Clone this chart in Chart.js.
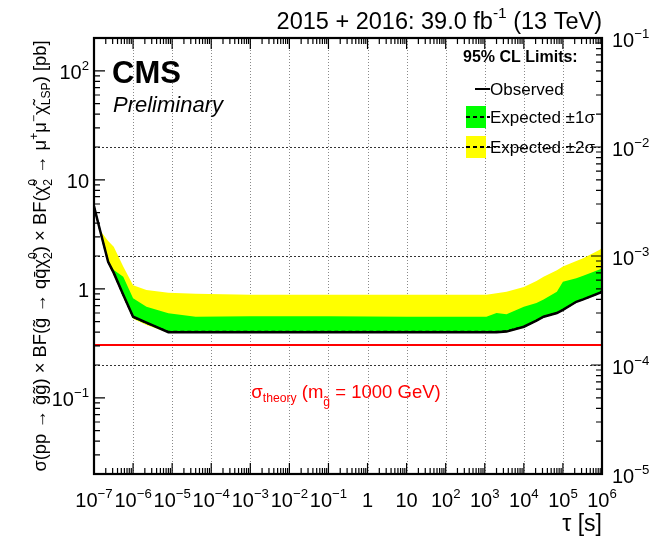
<!DOCTYPE html>
<html>
<head>
<meta charset="utf-8">
<script src="https://cdn.jsdelivr.net/npm/chart.js@4.4.1/dist/chart.umd.min.js"></script>
<style>
  html, body { margin: 0; padding: 0; background: #fff; }
</style>
</head>
<body>
<canvas id="limitPlot" width="657" height="541"></canvas>
<script>
// lifetime points (s) shared by every curve
const tau = [1e-7, 1.4e-7, 2.3e-7, 3.2e-7, 5.6e-7, 1e-6, 2.2e-6, 8e-6, 4e-5, 1e-3, 0.1, 10,
             1.1e3, 2e3, 3.6e3, 1e4, 2.1e4, 3.2e4, 7e4, 1e5, 2.2e5, 3.3e5, 9e5, 1e6];

// 95% CL upper limits on the cross section (pb)
const observed = [5.7, 3.54, 1.77, 1.40, 0.88, 0.555, 0.49, 0.40, 0.40, 0.40, 0.40, 0.40,
                  0.40, 0.40, 0.405, 0.449, 0.51, 0.555, 0.60, 0.64, 0.76, 0.80, 0.92, 0.95];
const expected = [5.7, 3.52, 1.76, 1.39, 0.875, 0.55, 0.485, 0.405, 0.405, 0.405, 0.405, 0.405,
                  0.405, 0.405, 0.41, 0.45, 0.51, 0.555, 0.60, 0.64, 0.76, 0.80, 0.92, 0.95];
const oneSigmaUp = [5.7, 3.54, 1.80, 1.49, 1.29, 0.82, 0.686, 0.596, 0.555, 0.56, 0.56, 0.555,
                    0.555, 0.60, 0.585, 0.686, 0.74, 0.80, 0.94, 1.16, 1.25, 1.32, 1.51, 1.55];
const oneSigmaDown = [5.7, 3.5, 1.74, 1.37, 0.86, 0.54, 0.475, 0.40, 0.40, 0.40, 0.40, 0.40,
                      0.40, 0.40, 0.405, 0.445, 0.505, 0.55, 0.595, 0.635, 0.755, 0.795, 0.915, 0.945];
const twoSigmaUp = [5.7, 3.47, 2.75, 2.43, 1.60, 1.08, 0.975, 0.92, 0.90, 0.88, 0.88, 0.88,
                    0.88, 0.91, 0.94, 1.04, 1.18, 1.29, 1.48, 1.60, 1.80, 1.91, 2.30, 2.40];
const twoSigmaDown = [5.7, 3.45, 1.70, 1.34, 0.84, 0.53, 0.465, 0.395, 0.395, 0.395, 0.395, 0.395,
                      0.395, 0.395, 0.40, 0.44, 0.50, 0.545, 0.59, 0.63, 0.75, 0.79, 0.91, 0.94];

// gluino pair production cross section, m = 1000 GeV
const theoryTau = [1e-7, 1e6];
const theoryXsec = [0.305, 0.305];

// axis tick decades
const xDecades = [-7, -6, -5, -4, -3, -2, -1, 0, 1, 2, 3, 4, 5, 6];
const yDecades = [-1, 0, 1, 2];
const y2Decades = [-5, -4, -3, -2, -1];

const FONT = '"Liberation Sans", Arial, Helvetica, sans-serif';

const pts = (xs, ys) => xs.map((x, i) => ({ x: x, y: ys[i] }));

function line(label, data, color, extra) {
  return Object.assign({
    label: label,
    data: data,
    borderColor: color,
    backgroundColor: color,
    borderWidth: 0,
    pointRadius: 0,
    tension: 0,
    fill: false
  }, extra || {});
}

// --- rich text (super/subscripts) ---
function partFont(size, p, style) {
  const s = (p.k && p.k !== 'n') ? size * 0.66 : size;
  return (style || '') + ' ' + s.toFixed(1) + 'px ' + FONT;
}
function richWidth(ctx, parts, size, style) {
  let w = 0;
  for (const p of parts) {
    ctx.font = partFont(size, p, style);
    let pw = ctx.measureText(p.t).width;
    if (p.k === 'both') pw = Math.max(pw, ctx.measureText(p.sup).width);
    w += pw;
  }
  return w;
}
function drawRich(ctx, parts, x, y, size, style, align) {
  const w = richWidth(ctx, parts, size, style);
  let cx = x;
  if (align === 'center') cx = x - w / 2;
  if (align === 'right') cx = x - w;
  ctx.textAlign = 'left';
  ctx.textBaseline = 'alphabetic';
  for (const p of parts) {
    ctx.font = partFont(size, p, style);
    let pw = ctx.measureText(p.t).width;
    const low = p.low || 0.22;
    if (p.k === 'sup') ctx.fillText(p.t, cx, y - size * 0.45);
    else if (p.k === 'sub') ctx.fillText(p.t, cx, y + size * low);
    else if (p.k === 'both') {
      ctx.fillText(p.t, cx, y + size * 0.3);
      ctx.fillText(p.sup, cx, y - size * 0.5);
      pw = Math.max(pw, ctx.measureText(p.sup).width);
    } else ctx.fillText(p.t, cx, y);
    cx += pw;
  }
  return w;
}
function expLabel(d) {
  if (d === 0) return [{ t: '1' }];
  if (d === 1) return [{ t: '10' }];
  return [{ t: '10' }, { t: (d < 0 ? '\u2212' : '') + Math.abs(d), k: 'sup' }];
}

const rootStyle = {
  id: 'rootStyle',
  beforeDatasetsDraw(chart) {
    const ctx = chart.ctx, a = chart.chartArea;
    const xs = chart.scales.x, y2 = chart.scales.y2;
    ctx.save();
    ctx.lineWidth = 1;
    // vertical dotted grid at each decade
    ctx.strokeStyle = '#8a8a8a';
    ctx.setLineDash([1, 2]);
    xDecades.slice(1, -1).forEach(d => {
      const px = Math.round(xs.getPixelForValue(Math.pow(10, d))) + 0.5;
      ctx.beginPath(); ctx.moveTo(px, a.top); ctx.lineTo(px, a.bottom); ctx.stroke();
    });
    // horizontal dashed grid at the right-axis decades
    ctx.strokeStyle = '#333';
    ctx.setLineDash([2, 2]);
    y2Decades.slice(1, -1).forEach(d => {
      const py = Math.round(y2.getPixelForValue(Math.pow(10, d))) + 0.5;
      ctx.beginPath(); ctx.moveTo(a.left, py); ctx.lineTo(a.right, py); ctx.stroke();
    });
    ctx.restore();
  },
  afterDatasetsDraw(chart) {
    const ctx = chart.ctx, a = chart.chartArea;
    const xs = chart.scales.x, ys = chart.scales.y, y2 = chart.scales.y2;
    ctx.save();
    ctx.setLineDash([]);
    ctx.strokeStyle = '#000';
    ctx.fillStyle = '#000';

    // ticks pointing into the frame
    ctx.lineWidth = 1.2;
    ctx.beginPath();
    for (let d = -7; d < 6; d++) {
      for (let k = 1; k < 10; k++) {
        const px = xs.getPixelForValue(k * Math.pow(10, d));
        const len = k === 1 ? 11 : 6;
        ctx.moveTo(px, a.bottom); ctx.lineTo(px, a.bottom - len);
        ctx.moveTo(px, a.top); ctx.lineTo(px, a.top + len);
      }
    }
    for (let d = -2; d < 3; d++) {
      for (let k = 1; k < 10; k++) {
        const v = k * Math.pow(10, d);
        if (v < 0.02 || v > 200) continue;
        const py = ys.getPixelForValue(v);
        const len = k === 1 ? 11 : 6;
        ctx.moveTo(a.left, py); ctx.lineTo(a.left + len, py);
      }
    }
    for (let d = -5; d < -1; d++) {
      for (let k = 1; k < 10; k++) {
        const py = y2.getPixelForValue(k * Math.pow(10, d));
        const len = k === 1 ? 11 : 6;
        ctx.moveTo(a.right, py); ctx.lineTo(a.right - len, py);
      }
    }
    ctx.stroke();

    // frame
    ctx.lineWidth = 2.2;
    ctx.strokeRect(a.left, a.top, a.right - a.left, a.bottom - a.top);

    // tick labels
    const ls = 20;
    xDecades.forEach(d => {
      drawRich(ctx, expLabel(d), xs.getPixelForValue(Math.pow(10, d)), a.bottom + 33, ls, '', 'center');
    });
    yDecades.forEach(d => {
      drawRich(ctx, expLabel(d), a.left - 5, ys.getPixelForValue(Math.pow(10, d)) + 8, ls, '', 'right');
    });
    y2Decades.forEach(d => {
      drawRich(ctx, expLabel(d), a.right + 10, y2.getPixelForValue(Math.pow(10, d)) + 9, ls, '', 'left');
    });

    // axis titles
    ctx.font = '23px ' + FONT;
    ctx.textAlign = 'right';
    ctx.fillText('\u03c4 [s]', a.right, 531);

    const yTitle = [
      { t: '\u03c3(pp \u2192 g\u0303g\u0303) \u00d7 BF(g\u0303 \u2192 qq\u0304\u03c7\u0303' },
      { t: '2', k: 'both', sup: '0' },
      { t: ') \u00d7 BF(\u03c7\u0303' },
      { t: '2', k: 'both', sup: '0' },
      { t: ' \u2192 \u03bc' }, { t: '+', k: 'sup' }, { t: '\u03bc' }, { t: '\u2212', k: 'sup' },
      { t: '\u03c7\u0303' }, { t: 'LSP', k: 'sub' }, { t: ') [pb]' }
    ];
    let ts = 18;
    const tw = richWidth(ctx, yTitle, ts, '');
    ts = ts * 432 / tw;
    ctx.save();
    ctx.translate(46, 256);
    ctx.rotate(-Math.PI / 2);
    drawRich(ctx, yTitle, 0, 0, ts, '', 'center');
    ctx.restore();

    // header
    drawRich(ctx, [{ t: '2015 + 2016: 39.0 fb' }, { t: '-1', k: 'sup' }, { t: ' (13 TeV)' }],
      a.right, 29, 23.5, '', 'right');

    ctx.textAlign = 'left';
    ctx.font = 'bold 31px ' + FONT;
    ctx.fillText('CMS', 112, 83);
    ctx.font = 'italic 22px ' + FONT;
    ctx.fillText('Preliminary', 113, 112);

    // theory label
    ctx.fillStyle = '#ff0000';
    drawRich(ctx, [{ t: '\u03c3' }, { t: 'theory', k: 'sub' }, { t: ' (m' }, { t: 'g\u0303', k: 'sub', low: 0.45 },
      { t: ' = 1000 GeV)' }], 346, 398, 18.5, '', 'center');

    // legend
    ctx.fillStyle = '#000';
    ctx.font = 'bold 16px ' + FONT;
    ctx.textAlign = 'left';
    ctx.fillText('95% CL Limits:', 463, 62);
    ctx.font = '17px ' + FONT;
    ctx.lineWidth = 2;
    ctx.beginPath(); ctx.moveTo(475, 89); ctx.lineTo(490, 89); ctx.stroke();
    ctx.fillText('Observed', 490, 95);
    const boxes = [['#00ff00', 106, 'Expected \u00b11\u03c3'], ['#ffff00', 136, 'Expected \u00b12\u03c3']];
    boxes.forEach(([c, top, txt]) => {
      ctx.fillStyle = c;
      ctx.fillRect(466, top, 20, 22);
      ctx.setLineDash([4, 3]);
      ctx.beginPath(); ctx.moveTo(466, top + 11); ctx.lineTo(490, top + 11); ctx.stroke();
      ctx.setLineDash([]);
      ctx.fillStyle = '#000';
      ctx.fillText(txt, 490, top + 17);
    });
    ctx.restore();
  }
};

new Chart(document.getElementById('limitPlot'), {
  type: 'line',
  data: {
    datasets: [
      line('Observed', pts(tau, observed), '#000000', { borderWidth: 2.5, order: 0 }),
      line('Expected', pts(tau, expected), '#000000', { borderWidth: 1.5, borderDash: [4, 3], order: 1 }),
      line('theory', pts(theoryTau, theoryXsec), '#ff0000', { borderWidth: 2, order: 2 }),
      line('Expected +1 sigma', pts(tau, oneSigmaUp), '#00ff00', { fill: '+1', order: 3 }),
      line('Expected -1 sigma', pts(tau, oneSigmaDown), '#00ff00', { order: 4 }),
      line('Expected +2 sigma', pts(tau, twoSigmaUp), '#ffff00', { fill: '+1', order: 5 }),
      line('Expected -2 sigma', pts(tau, twoSigmaDown), '#ffff00', { order: 6 })
    ]
  },
  options: {
    responsive: false,
    devicePixelRatio: 1,
    animation: false,
    layout: { padding: { left: 94, right: 55, top: 38, bottom: 67 } },
    plugins: {
      legend: { display: false },
      tooltip: { enabled: false },
      filler: { propagate: false }
    },
    scales: {
      x: { type: 'logarithmic', min: 1e-7, max: 1e6, display: false },
      y: { type: 'logarithmic', min: 0.02, max: 200, display: false },
      y2: { type: 'logarithmic', position: 'right', min: 1e-5, max: 1e-1, display: false }
    }
  },
  plugins: [rootStyle]
});
</script>
</body>
</html>
